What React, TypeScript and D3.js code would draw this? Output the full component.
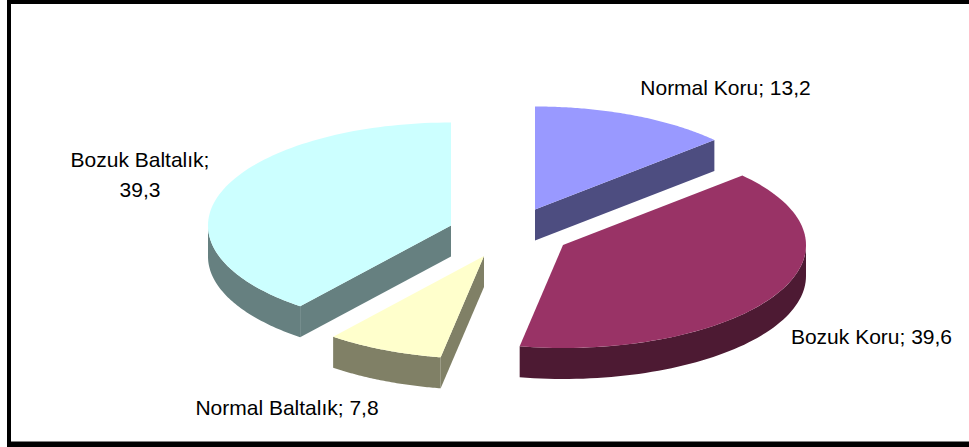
import React from "react";
import * as d3 from "d3";

const categories = ["Normal Koru", "Bozuk Koru", "Normal Baltalık", "Bozuk Baltalık"];
const values = [13.2, 39.6, 7.8, 39.3];
const topColors = ["#9999FF", "#993366", "#FFFFCC", "#CCFFFF"];
const sideColors = ["#4D4D80", "#4D1A33", "#808066", "#668080"];
const valueLabels = ["13,2", "39,6", "7,8", "39,3"];

const W = 969;
const H = 447;
const RX = 243;
const RY = 103;
const DEPTH = 31;
// Exploded centre of each slice's top face
const centers: [number, number][] = [
  [535, 209.5],
  [563, 245],
  [484, 256],
  [451, 225.5],
];
const labelLayout = [
  { x: 725.5, ys: [95], lines: (c: string, v: string) => [`${c}; ${v}`] },
  { x: 871.5, ys: [344], lines: (c: string, v: string) => [`${c}; ${v}`] },
  { x: 287, ys: [415], lines: (c: string, v: string) => [`${c}; ${v}`] },
  { x: 140, ys: [167, 197], lines: (c: string, v: string) => [`${c};`, v] },
];

const pie = d3.pie<number>().sort(null).startAngle(0).endAngle(2 * Math.PI);
const slices = pie(values);

const px = (cx: number, a: number) => cx + RX * Math.sin(a);
const py = (cy: number, a: number) => cy - RY * Math.cos(a);
const toLine = d3.line<[number, number]>().x((d) => d[0]).y((d) => d[1]);

function topPath(i: number): string {
  const [cx, cy] = centers[i];
  const { startAngle: a0, endAngle: a1 } = slices[i];
  const pts: [number, number][] = [[cx, cy]];
  const n = 90;
  d3.range(n + 1).forEach((k) => {
    const a = a0 + ((a1 - a0) * k) / n;
    pts.push([px(cx, a), py(cy, a)]);
  });
  return toLine(pts) + "Z";
}

function wallPath(i: number): string | null {
  const [cx, cy] = centers[i];
  const a0 = Math.max(slices[i].startAngle, Math.PI / 2);
  const a1 = Math.min(slices[i].endAngle, (3 * Math.PI) / 2);
  if (a1 <= a0) return null;
  const n = 60;
  const upper = d3.range(n + 1).map((k): [number, number] => {
    const a = a0 + ((a1 - a0) * k) / n;
    return [px(cx, a), py(cy, a)];
  });
  const lower = upper.slice().reverse().map(([x, y]): [number, number] => [x, y + DEPTH]);
  return toLine([...upper, ...lower]) + "Z";
}

// A straight cut face is visible when it turns toward the viewer
function cutPath(i: number): string | null {
  const [cx, cy] = centers[i];
  const { startAngle: a0, endAngle: a1 } = slices[i];
  let a: number | null = null;
  if (a1 < Math.PI / 2) a = a1;
  else if (a0 > Math.PI) a = a0;
  if (a === null) return null;
  const ex = px(cx, a);
  const ey = py(cy, a);
  return (
    toLine([
      [cx, cy],
      [ex, ey],
      [ex, ey + DEPTH],
      [cx, cy + DEPTH],
    ]) + "Z"
  );
}

export default function App() {
  return (
    <svg
      width={W}
      height={H}
      viewBox={`0 0 ${W} ${H}`}
      style={{ position: "fixed", left: 0, top: 0, display: "block", background: "#fff" }}
    >
      <rect x={7} y={0} width={W} height={H} fill="#000" />
      <rect x={11} y={4} width={W} height={437.5} fill="#fff" />
      {slices.map((_, i) => {
        const wall = wallPath(i);
        const cut = cutPath(i);
        return (
          <g key={categories[i]}>
            {cut && <path d={cut} fill={sideColors[i]} />}
            {wall && <path d={wall} fill={sideColors[i]} />}
            <path d={topPath(i)} fill={topColors[i]} />
          </g>
        );
      })}
      {categories.map((c, i) => {
        const l = labelLayout[i];
        return l.lines(c, valueLabels[i]).map((t, k) => (
          <text
            key={c + k}
            x={l.x}
            y={l.ys[k]}
            textAnchor="middle"
            fontFamily="'Liberation Sans', Arial, sans-serif"
            fontSize={21}
            fill="#000"
          >
            {t}
          </text>
        ));
      })}
    </svg>
  );
}
